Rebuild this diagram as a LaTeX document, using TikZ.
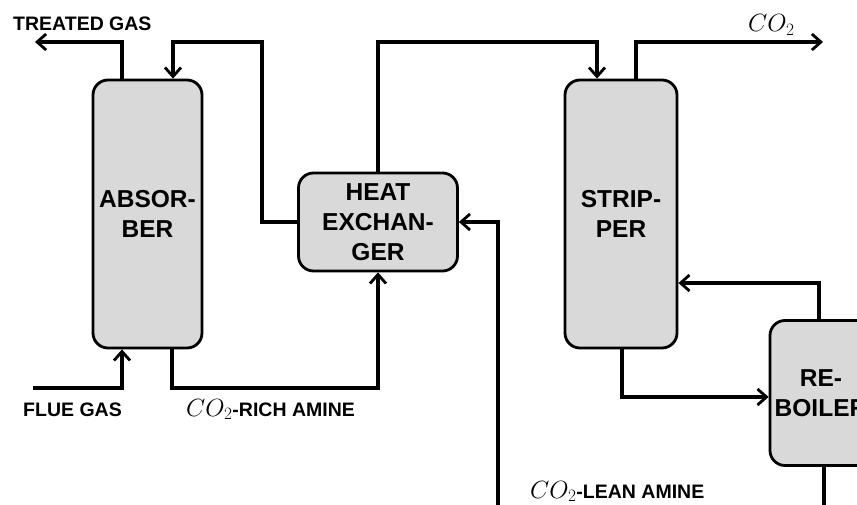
\documentclass[tikz,border=0pt]{standalone}
\usepackage{fontspec}
\setmainfont{Liberation Sans}
\usetikzlibrary{arrows.meta,calc}
\newcommand{\cotwo}{{\fontsize{23}{24}\selectfont$CO_2$}}
\begin{document}
\begin{tikzpicture}[x=1pt,y=-1pt,
  unit/.style={draw=black,line width=2.8pt,fill=gray!30,rounded corners=15pt,inner sep=0pt,
    align=center,font=\fontsize{24.5}{30}\selectfont\bfseries},
  flow/.style={line width=3.2pt,line join=miter},
  arr/.style={flow,-{Straight Barb[length=9pt,width=16pt,line width=2.8pt]}},
  lbl/.style={inner sep=0pt,anchor=base west,font=\fontsize{19.5}{22}\selectfont\bfseries}]
\useasboundingbox (0,0) rectangle (857,505);
\clip (0,0) rectangle (857,505);
% units
\node[unit,minimum width=109pt,minimum height=268pt] (abs) at (147.5,214) {ABSOR-\\BER};
\node[unit,minimum width=159pt,minimum height=98pt] (hx) at (378,222) {HEAT\\EXCHAN-\\GER};
\node[unit,minimum width=112pt,minimum height=268pt] (str) at (621,214) {STRIP-\\PER};
\node[unit,minimum width=102pt,minimum height=145pt] (reb) at (821,393) {RE-\\BOILER};
% helper coordinates
\coordinate (tgtop) at (122,42);
\coordinate (tgend) at (35,42);
\coordinate (c1) at (262,42);
\coordinate (c2) at (173,42);
\coordinate (c3) at (597,42);
\coordinate (c4) at (636,42);
\coordinate (c5) at (823,42);
\coordinate (c6) at (819,283);
\coordinate (c7) at (622,397);
\coordinate (c8) at (824,510);
\coordinate (c9) at (498,510);
\coordinate (c10) at (498,222);
\coordinate (c11) at (33,388);
\coordinate (c12) at (122,388);
\coordinate (c13) at (172,388);
% connectors
\draw[arr] (tgtop |- abs.north) -- (tgtop) -- (tgend);
\draw[arr] (hx.west) -| (c1) -- (c2) -- (c2 |- abs.north);
\draw[arr] (hx.north) -- (hx.north |- c3) -- (c3) -- (c3 |- str.north);
\draw[arr] (c4 |- str.north) -- (c4) -- (c5);
\draw[arr] (c6 |- reb.north) -- (c6) -- (c6 -| str.east);
\draw[arr] (c7 |- str.south) -- (c7) -- (c7 -| reb.west);
\draw[flow] (c8 |- reb.south) -- (c8);
\draw[arr] (c9) -- (c10) -- (c10 -| hx.east);
\draw[arr] (c11) -- (c12) -- (c12 |- abs.south);
\draw[arr] (c13 |- abs.south) -- (c13) -- (c13 -| hx.south) -- (hx.south);
% labels
\node[lbl] (ltg) at (13,31) {TREATED GAS};
\node[lbl] (lco2) at (748,32) {\cotwo};
\node[lbl] (lfg) at (23,416) {FLUE GAS};
\node[lbl] (lrich) at (186,416) {\cotwo-RICH AMINE};
\node[lbl] (llean) at (530,498) {\cotwo-LEAN AMINE};
\end{tikzpicture}
\end{document}
